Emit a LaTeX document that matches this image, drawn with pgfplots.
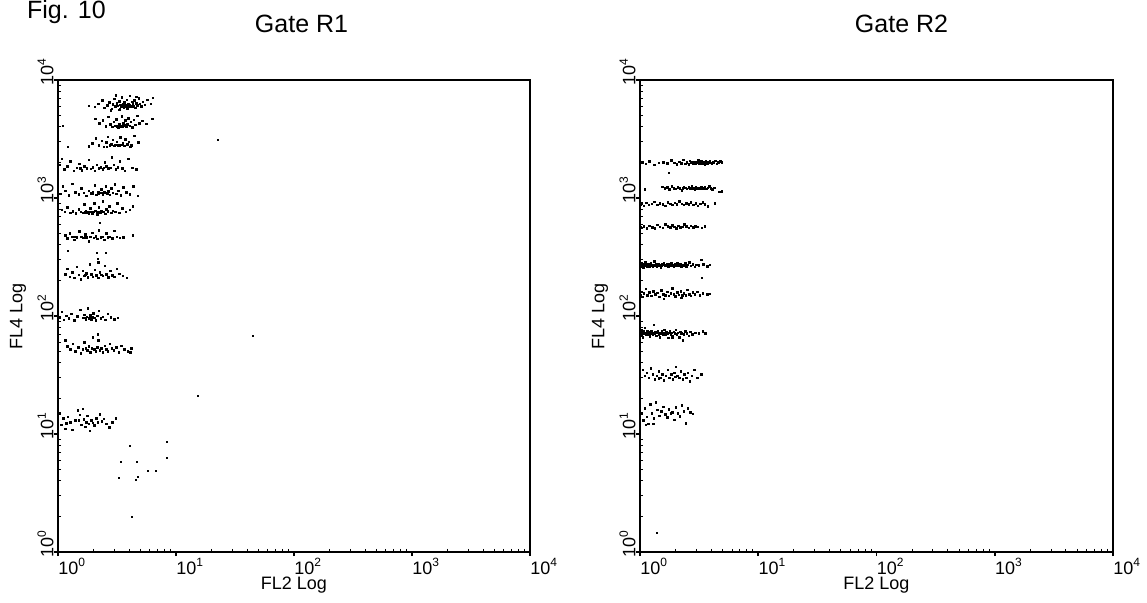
\documentclass[border=0pt]{standalone}
\usepackage{fontspec}
\setmainfont{Liberation Sans}
\usepackage{pgfplots}
\pgfplotsset{compat=1.18}

\pgfplotsset{
  evt/.style={only marks, mark=square*, mark size=0.38pt, mark options={draw=none, fill=black}},
  axfont/.style={font=\fontsize{9}{10}\selectfont},
}

\begin{document}
\begin{tikzpicture}
\useasboundingbox (0,0) rectangle (573.5pt,301pt);

\node[anchor=base west, font=\fontsize{12.5}{14}\selectfont] at (10pt,292pt) {Fig. 10};
\node[anchor=base, font=\fontsize{12.5}{14}\selectfont] at (150.75pt,284.8pt) {Gate R1};
\node[anchor=base, font=\fontsize{12.5}{14}\selectfont] at (450.75pt,284.8pt) {Gate R2};

% ---------------- Gate R1 ----------------
\begin{axis}[
    xmode=log, ymode=log,
    xmin=1, xmax=10000, ymin=1, ymax=10000,
    scale only axis, width=236pt, height=236pt,
    at={(29pt,25pt)}, anchor=south west,
    axis line style={line width=0.9pt},
    xtick pos=bottom, ytick pos=left,
    tick align=outside,
    major tick length=2pt,
    minor tick length=-1.6pt,
    major tick style={line width=0.8pt, black},
    minor tick style={line width=0.5pt, black},
    xtick={1,10,100,1000,10000},
    ytick={1,10,100,1000,10000},
    minor xtick={2,3,4,5,6,7,8,9,20,30,40,50,60,70,80,90,200,300,400,500,600,700,800,900,2000,3000,4000,5000,6000,7000,8000,9000},
    minor ytick={2,3,4,5,6,7,8,9,20,30,40,50,60,70,80,90,200,300,400,500,600,700,800,900,2000,3000,4000,5000,6000,7000,8000,9000},
    xticklabels={10\textsuperscript{0},10\textsuperscript{1},10\textsuperscript{2},10\textsuperscript{3},10\textsuperscript{4}},
    yticklabels={10\textsuperscript{0},10\textsuperscript{1},10\textsuperscript{2},10\textsuperscript{3},10\textsuperscript{4}},
    xticklabel style={axfont, anchor=north west, inner sep=0pt, yshift=-1pt},
    yticklabel style={axfont, rotate=90, anchor=south west, inner sep=0pt, xshift=-3pt},
    xlabel={FL2 Log}, ylabel={FL4 Log},
    x label style={at={(axis description cs:0.5,-0.07)}, anchor=center, font=\fontsize{9}{10}\selectfont},
    y label style={at={(axis description cs:-0.0847,0.5)}, rotate=0, anchor=center, font=\fontsize{9}{10}\selectfont},
    clip=false,
]
% band near 6000
\addplot[evt] coordinates {
(1.82,6050) (2.05,5900) (2.21,6300) (2.38,6700) (2.47,5800) (2.61,6100) (2.74,6450) (2.85,5700)
(2.93,6200) (3.02,6900) (3.08,5950) (3.15,6350) (3.21,6050) (3.27,5600) (3.33,6600) (3.38,6150)
(3.44,6000) (3.49,7100) (3.55,6250) (3.61,5850) (3.66,6450) (3.72,6100) (3.78,6000) (3.83,6800)
(3.88,5750) (3.94,6300) (4.01,6150) (4.07,7300) (4.12,6050) (4.18,5900) (4.25,6550) (4.31,6200)
(4.39,6000) (4.46,6700) (4.55,5800) (4.63,6350) (4.72,6100) (4.84,7000) (4.95,6250) (5.08,5950)
(5.25,6500) (5.45,6150) (5.70,6800) (6.10,6300) (6.35,7050) (3.50,6020) (3.60,6040) (3.70,6010)
(3.90,6080) (4.05,5980) (3.35,5650) (2.80,5550) (3.10,7400) (4.60,7200)
};
% band near 4100
\addplot[evt] coordinates {
(2.08,4700) (2.25,4300) (2.40,4550) (2.55,4050) (2.68,4850) (2.79,4200) (2.88,4000) (2.97,4400)
(3.05,4100) (3.12,4650) (3.19,4050) (3.26,3980) (3.33,4250) (3.40,4100) (3.47,4900) (3.53,4020)
(3.60,4300) (3.67,4120) (3.74,4550) (3.81,4000) (3.89,4200) (3.97,4750) (4.05,4080) (4.14,4400)
(4.25,3950) (4.38,4600) (4.52,4150) (4.70,4980) (4.90,4300) (5.20,4500) (5.60,4250) (6.30,4700)
(3.15,4080) (3.30,4060) (3.45,4090) (1.10,4075)
};
% band near 2800
\addplot[evt] coordinates {
(1.82,2750) (1.95,2900) (2.10,3200) (2.22,2800) (2.35,3050) (2.46,2700) (2.57,2950) (2.66,3300)
(2.75,2780) (2.84,2850) (2.92,3100) (3.00,2760) (3.08,2830) (3.16,2980) (3.24,2790) (3.31,2800)
(3.39,3250) (3.47,2820) (3.55,2900) (3.64,2770) (3.74,3150) (3.86,2850) (4.00,3000) (4.20,2800)
(4.45,3350) (4.80,2950) (3.20,2810) (3.35,2800) (3.50,2815) (2.60,2720) (4.10,2700) (1.215,2705)
};
% band near 1800
\addplot[evt] coordinates {
(1.04,1900) (1.08,2150) (1.13,1750) (1.20,1850) (1.28,2050) (1.36,1700) (1.44,1800) (1.52,1950)
(1.60,1720) (1.68,1850) (1.75,1780) (1.82,2100) (1.90,1760) (1.98,1820) (2.06,1700) (2.14,1900)
(2.22,1790) (2.31,1810) (2.40,1740) (2.49,2000) (2.58,1850) (2.67,1770) (2.77,1800) (2.87,2200)
(2.98,1900) (3.10,1750) (3.22,1820) (3.36,2050) (3.52,1780) (3.70,1700) (3.95,2150) (4.25,1800)
(4.60,1750) (1.55,1790) (2.45,1800) (2.70,1780)
};
% band near 1100
\addplot[evt] coordinates {
(1.05,1080) (1.10,1250) (1.16,1150) (1.24,1050) (1.33,1320) (1.41,1120) (1.50,1070) (1.58,1200)
(1.66,1100) (1.74,1040) (1.82,1150) (1.90,1090) (1.97,1110) (2.05,1280) (2.12,1060) (2.19,1130)
(2.26,1100) (2.33,1180) (2.40,1070) (2.47,1120) (2.54,1250) (2.61,1090) (2.68,1140) (2.76,1060)
(2.84,1200) (2.93,1100) (3.03,1310) (3.14,1080) (3.26,1150) (3.40,1050) (3.58,1230) (3.80,1110)
(4.05,1070) (4.35,1260) (4.75,1040) (2.20,1095) (2.35,1105) (1.95,1085)
};
% band near 760
\addplot[evt] coordinates {
(1.08,790) (1.14,760) (1.20,830) (1.27,750) (1.34,770) (1.42,740) (1.50,800) (1.57,760)
(1.63,745) (1.68,880) (1.73,770) (1.78,755) (1.83,740) (1.88,820) (1.93,765) (1.98,750)
(2.03,900) (2.08,780) (2.13,745) (2.18,760) (2.23,830) (2.28,750) (2.34,770) (2.40,940)
(2.46,760) (2.52,735) (2.58,800) (2.66,770) (2.74,850) (2.83,750) (2.93,780) (3.05,760)
(3.18,900) (3.32,745) (3.50,820) (3.75,760) (4.05,790) (4.30,850) (1.70,755) (1.85,760)
(2.00,765) (2.20,755) (1.95,730) (2.15,725) (2.27,614)
};
% band near 470
\addplot[evt] coordinates {
(1.15,480) (1.20,455) (1.26,500) (1.32,470) (1.38,440) (1.45,465) (1.52,520) (1.58,470)
(1.64,460) (1.70,490) (1.76,465) (1.82,430) (1.88,470) (1.95,505) (2.02,460) (2.09,475)
(2.16,450) (2.23,530) (2.31,465) (2.39,470) (2.47,440) (2.56,500) (2.66,465) (2.76,470)
(2.88,455) (3.00,525) (3.15,470) (3.35,460) (3.60,465) (4.30,480) (1.40,468) (1.70,463)
(1.215,356) (2.14,342) (2.55,342) (2.18,304)
};
% band near 220
\addplot[evt] coordinates {
(1.15,225) (1.20,250) (1.26,215) (1.32,235) (1.38,210) (1.44,260) (1.50,222) (1.56,205)
(1.62,240) (1.68,218) (1.74,230) (1.80,212) (1.86,275) (1.92,225) (1.98,215) (2.05,245)
(2.12,220) (2.19,210) (2.26,235) (2.33,222) (2.41,218) (2.49,265) (2.58,225) (2.67,212)
(2.77,240) (2.88,220) (3.00,215) (3.15,250) (3.32,228) (3.55,218) (3.84,210) (2.20,285)
(1.70,222)
};
% band near 96
\addplot[evt] coordinates {
(1.04,97) (1.08,108) (1.12,93) (1.18,100) (1.24,95) (1.30,104) (1.38,92) (1.46,99)
(1.55,113) (1.62,96) (1.67,102) (1.72,94) (1.76,98) (1.80,116) (1.84,95) (1.88,101)
(1.92,93) (1.96,97) (2.00,105) (2.05,96) (2.10,92) (2.15,100) (2.22,110) (2.30,95)
(2.40,98) (2.52,93) (2.66,104) (2.82,97) (3.00,94) (3.22,96) (1.70,96) (1.90,97)
};
% band near 52
\addplot[evt] coordinates {
(1.15,62) (1.20,55) (1.27,52) (1.34,58) (1.41,50) (1.49,54) (1.56,48) (1.62,52)
(1.68,60) (1.73,53) (1.78,51) (1.83,55) (1.88,49) (1.93,53) (1.98,66) (2.03,52)
(2.09,50) (2.15,54) (2.21,62) (2.27,51) (2.34,53) (2.41,49) (2.49,56) (2.57,52)
(2.66,50) (2.76,58) (2.87,53) (2.99,51) (3.13,54) (3.28,49) (3.45,56) (3.65,52)
(3.90,50) (4.20,53) (4.10,49) (2.18,70)
};
% band near 13
\addplot[evt] coordinates {
(1.04,15) (1.07,12) (1.11,13.5) (1.16,11) (1.21,14) (1.27,12.5) (1.33,10.8) (1.40,13)
(1.47,15.8) (1.53,14.5) (1.58,12) (1.62,16.3) (1.66,13.3) (1.70,11.5) (1.74,12.6) (1.78,14.2)
(1.82,12.2) (1.87,10.6) (1.92,13.0) (1.98,12.4) (2.04,11.8) (2.11,13.6) (2.18,12.5) (2.26,14.6)
(2.35,12.8) (2.46,13.4) (2.58,12.2) (2.72,11.4) (2.90,12.6) (3.10,13.5) (1.18,12.3) (1.50,13.1)
};
% isolated events
\addplot[evt] coordinates {
(45,67.7) (22.7,3100) (15.4,21) (4.07,7.9) (8.4,8.55) (8.4,6.26) (3.42,5.79) (4.67,5.79)
(5.79,4.86) (6.77,4.86) (3.29,4.24) (4.58,4.08) (4.76,4.32) (4.24,1.98)
};
\end{axis}

% ---------------- Gate R2 ----------------
\begin{axis}[
    xmode=log, ymode=log,
    xmin=1, xmax=10000, ymin=1, ymax=10000,
    scale only axis, width=236.5pt, height=236pt,
    at={(320pt,25pt)}, anchor=south west,
    axis line style={line width=0.9pt},
    xtick pos=bottom, ytick pos=left,
    tick align=outside,
    major tick length=2pt,
    minor tick length=-1.6pt,
    major tick style={line width=0.8pt, black},
    minor tick style={line width=0.5pt, black},
    xtick={1,10,100,1000,10000},
    ytick={1,10,100,1000,10000},
    minor xtick={2,3,4,5,6,7,8,9,20,30,40,50,60,70,80,90,200,300,400,500,600,700,800,900,2000,3000,4000,5000,6000,7000,8000,9000},
    minor ytick={2,3,4,5,6,7,8,9,20,30,40,50,60,70,80,90,200,300,400,500,600,700,800,900,2000,3000,4000,5000,6000,7000,8000,9000},
    xticklabels={10\textsuperscript{0},10\textsuperscript{1},10\textsuperscript{2},10\textsuperscript{3},10\textsuperscript{4}},
    yticklabels={10\textsuperscript{0},10\textsuperscript{1},10\textsuperscript{2},10\textsuperscript{3},10\textsuperscript{4}},
    xticklabel style={axfont, anchor=north west, inner sep=0pt, yshift=-1pt},
    yticklabel style={axfont, rotate=90, anchor=south west, inner sep=0pt, xshift=-3pt},
    xlabel={FL2 Log}, ylabel={FL4 Log},
    x label style={at={(axis description cs:0.5,-0.07)}, anchor=center, font=\fontsize{9}{10}\selectfont},
    y label style={at={(axis description cs:-0.0847,0.5)}, rotate=0, anchor=center, font=\fontsize{9}{10}\selectfont},
    clip=false,
]
% band near 2000
\addplot[evt] coordinates {
(1.05,2000) (1.12,1950) (1.20,2050) (1.32,1900) (1.45,1980) (1.58,2010) (1.70,1960) (1.76,1630)
(1.85,2080) (1.95,1990) (2.05,1930) (2.15,2020) (2.24,1970) (2.33,2100) (2.42,1950) (2.50,2000)
(2.58,1920) (2.64,2060) (2.70,1980) (2.76,2000) (2.82,1940) (2.88,2030) (2.94,1970) (3.00,2010)
(3.06,1990) (3.12,2080) (3.18,1950) (3.24,2000) (3.30,2040) (3.36,1970) (3.42,2010) (3.48,1990)
(3.54,1930) (3.60,2050) (3.66,2000) (3.72,1960) (3.78,2020) (3.84,1990) (3.90,2070) (3.97,1980)
(4.05,1940) (4.13,2010) (4.22,2000) (4.32,2060) (4.45,1950) (4.60,2000) (4.80,2040) (4.95,2010)
(2.90,1990) (3.05,1995) (3.20,2005) (3.35,1985) (3.50,2000) (3.65,1995) (3.80,2000) (2.98,2000)
(3.28,1992)
};
% band near 1200
\addplot[evt] coordinates {
(1.10,1180) (1.54,1240) (1.62,1200) (1.70,1230) (1.78,1180) (1.86,1250) (1.94,1210) (2.02,1190)
(2.10,1230) (2.18,1205) (2.26,1160) (2.34,1240) (2.42,1215) (2.50,1195) (2.58,1225) (2.66,1200)
(2.74,1250) (2.82,1210) (2.90,1185) (2.98,1230) (3.06,1205) (3.14,1220) (3.22,1190) (3.30,1240)
(3.38,1210) (3.46,1200) (3.55,1230) (3.64,1195) (3.74,1215) (3.85,1250) (3.96,1200) (4.10,1185)
(4.25,1220) (4.70,1130) (4.95,1140) (2.30,1210) (2.70,1215) (3.00,1212) (3.20,1218)
};
% band near 890
\addplot[evt] coordinates {
(1.01,880) (1.04,900) (1.08,860) (1.13,910) (1.19,870) (1.26,895) (1.33,930) (1.40,875)
(1.48,900) (1.56,885) (1.64,860) (1.72,920) (1.80,890) (1.88,870) (1.97,905) (2.06,880)
(2.16,940) (2.26,890) (2.36,870) (2.47,900) (2.58,885) (2.70,915) (2.83,875) (2.96,900)
(3.10,860) (3.25,890) (3.40,920) (3.55,880) (3.75,850) (4.30,900)
};
% band near 570
\addplot[evt] coordinates {
(1.01,570) (1.04,560) (1.08,575) (1.14,555) (1.20,580) (1.27,565) (1.34,550) (1.41,590)
(1.48,570) (1.56,560) (1.64,600) (1.72,575) (1.80,565) (1.88,585) (1.96,570) (2.04,555)
(2.12,580) (2.20,565) (2.29,570) (2.38,600) (2.48,575) (2.58,560) (2.70,580) (2.82,565)
(2.95,575) (3.10,570) (3.35,560) (3.55,575)
};
% band near 270
\addplot[evt] coordinates {
(1.02,270) (1.03,262) (1.04,280) (1.05,268) (1.06,275) (1.07,258) (1.08,272) (1.10,266)
(1.11,285) (1.12,270) (1.14,262) (1.15,276) (1.17,268) (1.18,273) (1.20,260) (1.22,271)
(1.24,279) (1.25,266) (1.27,272) (1.29,264) (1.31,270) (1.33,290) (1.35,268) (1.37,274)
(1.39,262) (1.41,270) (1.43,277) (1.45,266) (1.48,272) (1.50,259) (1.52,268) (1.55,274)
(1.57,270) (1.60,281) (1.62,265) (1.65,271) (1.67,268) (1.70,276) (1.73,262) (1.76,270)
(1.79,273) (1.82,266) (1.85,278) (1.88,268) (1.91,271) (1.94,260) (1.97,274) (2.00,268)
(2.04,272) (2.08,280) (2.12,265) (2.16,270) (2.20,276) (2.25,262) (2.30,272) (2.36,268)
(2.42,278) (2.48,264) (2.55,270) (2.62,285) (2.70,266) (2.80,274) (2.90,260) (3.00,270)
(3.15,268) (3.30,300) (3.45,275) (3.70,262) (3.90,270)
};
% band near 154
\addplot[evt] coordinates {
(1.01,150) (1.03,160) (1.05,145) (1.08,155) (1.12,170) (1.16,150) (1.20,158) (1.25,148)
(1.30,162) (1.35,152) (1.40,157) (1.46,145) (1.52,165) (1.58,153) (1.64,150) (1.70,160)
(1.76,148) (1.82,155) (1.88,172) (1.94,152) (2.00,147) (2.07,158) (2.14,151) (2.21,162)
(2.28,149) (2.36,156) (2.44,150) (2.52,166) (2.61,153) (2.70,148) (2.80,158) (2.92,152)
(3.05,160) (3.20,150) (3.40,155) (3.70,153) (3.90,154) (1.60,140) (2.25,142) (3.35,210)
};
% band near 72
\addplot[evt] coordinates {
(1.01,72) (1.02,68) (1.03,76) (1.04,70) (1.05,73) (1.06,66) (1.08,74) (1.09,71)
(1.10,79) (1.12,69) (1.14,72) (1.15,75) (1.17,70) (1.19,73) (1.21,67) (1.23,71)
(1.25,74) (1.27,72) (1.29,69) (1.31,84) (1.33,71) (1.35,73) (1.37,68) (1.40,72)
(1.42,75) (1.45,70) (1.47,72) (1.50,71) (1.53,74) (1.56,69) (1.58,72) (1.61,76)
(1.64,70) (1.67,73) (1.70,71) (1.73,65) (1.76,72) (1.79,74) (1.82,70) (1.86,72)
(1.90,68) (1.94,73) (1.98,71) (2.02,76) (2.06,70) (2.10,72) (2.15,66) (2.20,73)
(2.25,71) (2.30,62) (2.36,70) (2.42,74) (2.50,71) (2.58,68) (2.66,73) (2.78,70)
(2.95,72) (3.15,71) (3.40,74) (3.56,71) (1.48,66) (1.88,66)
};
% band near 32
\addplot[evt] coordinates {
(1.06,35) (1.10,31) (1.14,33) (1.19,30) (1.24,36) (1.29,32) (1.34,29) (1.39,31)
(1.44,34) (1.50,30) (1.55,32) (1.60,28.5) (1.66,31) (1.72,35) (1.78,30) (1.84,32)
(1.90,29) (1.96,33) (2.02,37) (2.08,31) (2.15,30) (2.22,34) (2.30,29) (2.38,32)
(2.46,30) (2.55,33) (2.64,28) (2.75,31) (2.88,35) (3.05,30) (3.30,32) (1.45,29.5)
(2.00,30.5)
};
% band near 15
\addplot[evt] coordinates {
(1.04,15) (1.07,13) (1.10,16.5) (1.14,14) (1.18,12.2) (1.22,17.8) (1.26,15) (1.31,13.5)
(1.36,18.6) (1.41,16) (1.46,14.2) (1.52,15.5) (1.58,17) (1.64,14.6) (1.70,13.8) (1.76,16.2)
(1.82,14.9) (1.88,15.3) (1.95,13.2) (2.02,16.8) (2.10,15) (2.18,14.1) (2.26,17.5) (2.35,15.6)
(2.45,12.3) (2.55,16.4) (2.68,15.2) (2.80,14.8) (1.12,12) (1.30,12.2)
};
% isolated event
\addplot[evt] coordinates {(1.39,1.45)};
\end{axis}
\end{tikzpicture}
\end{document}
